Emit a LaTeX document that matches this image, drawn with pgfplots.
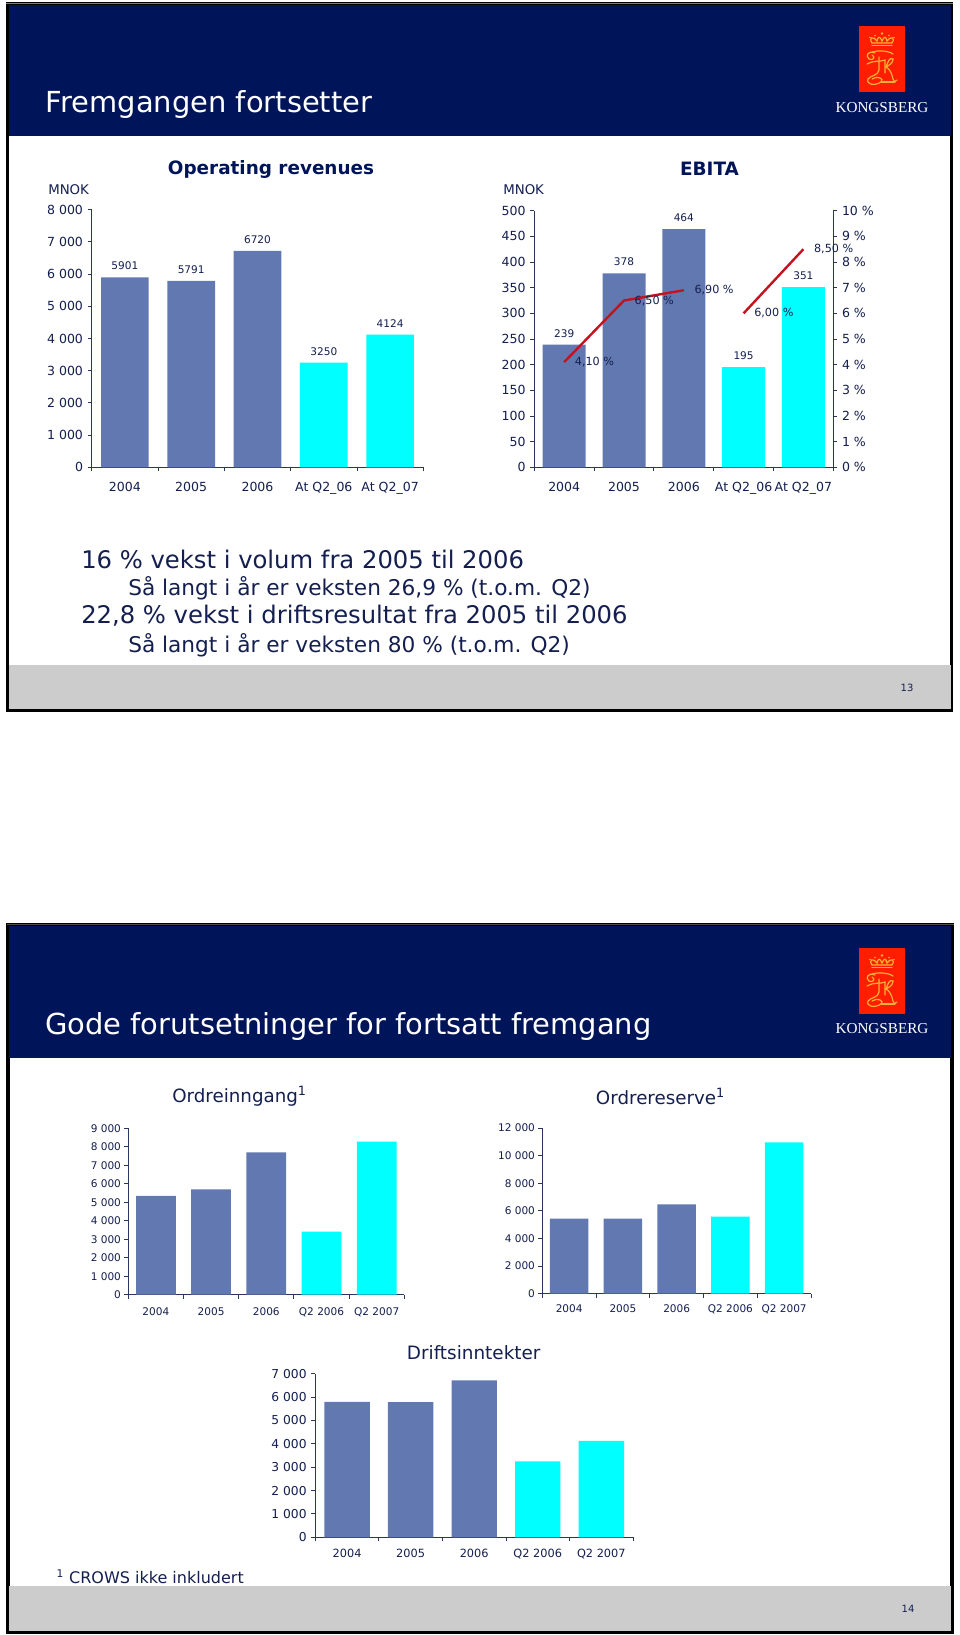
\documentclass[border=0pt]{standalone}
\usepackage{pgfplots}
\pgfplotsset{compat=1.18}
\usepackage{fontspec}
\setmainfont{DejaVu Sans}
\newfontfamily\logofont{Liberation Serif}
\newlength\px \setlength\px{0.75pt}
\definecolor{navy}{HTML}{00145A}
\definecolor{txt}{HTML}{141F50}
\definecolor{axc}{HTML}{2A3560}
\definecolor{barb}{HTML}{6278B0}
\definecolor{cyanb}{HTML}{00FFFF}
\definecolor{footg}{HTML}{CCCCCC}
\definecolor{redl}{HTML}{C4121F}
\definecolor{logor}{HTML}{FF1E00}
\definecolor{logoy}{HTML}{FFB030}
\newcommand\fs[1]{\fontsize{#1}{#1}\selectfont}
\pgfplotsset{
  kb/.style={
    scale only axis, clip=false,
    axis lines*=left,
    axis line style={draw=axc,line width=0.8pt,-},
    xmin=-0.5, xmax=4.5, ymin=0,
    xtick={0,1,2,3,4},
    minor xtick={-0.5,0.5,1.5,2.5,3.5,4.5},
    major x tick style={draw=none},
    minor x tick style={draw=axc,line width=0.7pt},
    y tick style={draw=axc,line width=0.7pt},
    tick align=outside,
    major tick length=4\px, minor tick length=4\px,
    scaled y ticks=false,
    /pgf/number format/assume math mode=true,
    /pgf/number format/1000 sep={\ },
    tick label style={text=txt},
  },
  bb/.style={ybar, bar shift=0pt, fill=barb, draw=none},
  cb/.style={ybar, bar shift=0pt, fill=cyanb, draw=none},
  vals/.style={nodes near coords={\pgfmathprintnumber[1000 sep={}]{\pgfplotspointmeta}},
     every node near coord/.append style={font=\fs{7.9},text=txt,yshift=2pt}},
  pct/.style={draw=redl,line width=1.8pt,no markers,
     nodes near coords={\pgfmathprintnumber[use comma,fixed,fixed zerofill,precision=2]{\pgfplotspointmeta}~\%},
     every node near coord/.append style={font=\fs{8.4},text=txt,anchor=west,xshift=9.5\px,inner sep=0pt}},
}
\newcommand\logo[2]{%
 \begin{scope}[shift={(#1,#2)},x=0.75pt,y=-0.75pt]
  \fill[logor] (0,0) rectangle (46,65.7);
  \begin{scope}[draw=logoy,line width=0.9pt,line cap=round,fill=logoy]
   \draw (13,19.5) -- (33,19.5);
   \draw (13,17) .. controls (9,11) and (15,10) .. (18,15) .. controls (19,10) and (21,10) .. (23,15)
      .. controls (25,10) and (27,10) .. (28,15) .. controls (31,10) and (37,11) .. (33,17) -- cycle;
   \fill (23,7.5) circle (1.3) (16,9.5) circle (0.8) (30,9.5) circle (0.8) (11,11.5) circle (0.8) (35,11.5) circle (0.8);
   \draw (16,27) .. controls (9,24) and (6,30) .. (10,33) .. controls (14,35) and (17,31) .. (13,29);
   \draw (13,26) .. controls (20,24) and (30,25) .. (34,28);
   \draw (8,38) .. controls (14,34) and (22,36) .. (26,34) -- (26,47);
   \draw (20,31) -- (20,44) .. controls (19,50) and (12,49) .. (9,53) .. controls (7,59) and (16,60) .. (22,56) .. controls (26,53) and (18,49) .. (13,53);
   \draw (26,41) .. controls (30,40) and (34,37) .. (34,33) .. controls (30,31) and (29,36) .. (27,41)
      .. controls (31,43) and (33,48) .. (34,53) .. controls (35,56) and (37,56) .. (38,54);
   \draw (22,56) -- (36,56);
  \end{scope}
 \end{scope}}
\begin{document}
\begin{tikzpicture}[x=0.75pt,y=-0.75pt]
\path[use as bounding box,fill=white] (0,0) rectangle (960,1635);

% ---------- slide 1 ----------
\draw[black,line width=2.3pt,fill=white] (7.5,4) rectangle (951.5,710);
\fill[navy] (8.5,5) rectangle (950.5,136);
\fill[footg] (8.5,665) rectangle (950.5,708.5);
\draw[gray,line width=1pt] (6,3.3) -- (953,3.3);
\logo{859}{26}
\node[anchor=center,text=white,font=\logofont\fs{11.4}] at (882,107.7) {KONGSBERG};
\node[anchor=base west,inner sep=0pt,text=white,font=\fs{21.7}] at (45.7,112.7) {Fremgangen fortsetter};
\node[text=navy,font=\bfseries\fs{13.8}] at (271,169) {Operating revenues};
\node[text=navy,font=\bfseries\fs{13.8}] at (709.5,169) {EBITA};
\node[anchor=west,inner sep=0pt,text=txt,font=\fs{10}] at (48,189.5) {MNOK};
\node[anchor=west,inner sep=0pt,text=txt,font=\fs{10}] at (503,189.5) {MNOK};

\begin{axis}[kb, at={(91.7\px,-467.3\px)}, anchor=south west, width=331.6\px, height=257.6\px,
  ymax=8000, ytick={0,1000,...,8000},
  tick label style={font=\fs{9.4}},
  xticklabels={2004,2005,2006,At Q2\_06,At Q2\_07}, xticklabel style={yshift=-5pt}]
 \addplot[bb,bar width=47.7\px,vals] coordinates {(0,5901)(1,5791)(2,6720)};
 \addplot[cb,bar width=47.7\px,vals] coordinates {(3,3250)(4,4124)};
\end{axis}

\begin{axis}[kb, at={(534.3\px,-467.3\px)}, anchor=south west, width=299\px, height=256.6\px,
  ymax=500, ytick={0,50,...,500},
  tick label style={font=\fs{9.4}},
  xticklabels={2004,2005,2006,At Q2\_06,At Q2\_07}, xticklabel style={yshift=-5pt}]
 \addplot[bb,bar width=43\px,vals] coordinates {(0,239)(1,378)(2,464)};
 \addplot[cb,bar width=43\px,vals] coordinates {(3,195)(4,351)};
\end{axis}
\begin{axis}[scale only axis, clip=false, at={(534.3\px,-467.3\px)}, anchor=south west, width=299\px, height=256.6\px,
  axis x line=none, axis y line*=right,
  axis line style={draw=axc,line width=0.8pt,-},
  xmin=-0.5, xmax=4.5, ymin=0, ymax=10, ytick={0,1,...,10},
  y tick style={draw=axc,line width=0.7pt}, tick align=outside, major tick length=4\px,
  yticklabel={\pgfmathprintnumber{\tick}~\%},
  /pgf/number format/assume math mode=true,
  tick label style={font=\fs{9.4},text=txt}]
 \addplot[pct] coordinates {(0,4.1)(1,6.5)(2,6.9)};
 \addplot[pct] coordinates {(3,6.0)(4,8.5)};
\end{axis}

\node[anchor=west,inner sep=0pt,text=txt,font=\fs{18.2}] at (81,559) {16 \% vekst i volum fra 2005 til 2006};
\node[anchor=west,inner sep=0pt,text=txt,font=\fs{16.25}] at (128,588.5) {Så langt i år er veksten 26,9 \% (t.o.m. Q2)};
\node[anchor=west,inner sep=0pt,text=txt,font=\fs{18.2}] at (81,616) {22,8 \% vekst i driftsresultat fra 2005 til 2006};
\node[anchor=west,inner sep=0pt,text=txt,font=\fs{16.25}] at (128,645) {Så langt i år er veksten 80 \% (t.o.m. Q2)};
\node[text=txt,font=\fs{7.5}] at (907,688) {13};

% ---------- slide 2 ----------
\draw[black,line width=2.3pt,fill=white] (8,925) rectangle (952,1632);
\fill[navy] (9,926) rectangle (951,1058);
\fill[footg] (9,1586) rectangle (951,1630.5);
\draw[gray!60!black,line width=1pt] (6.5,924.3) -- (953.5,924.3);
\logo{859}{948}
\node[anchor=center,text=white,font=\logofont\fs{11.4}] at (882,1029) {KONGSBERG};
\node[anchor=base west,inner sep=0pt,text=white,font=\fs{21.7}] at (45,1034) {Gode forutsetninger for fortsatt fremgang};
\node[anchor=west,inner sep=0pt,text=txt,font=\fs{13.7}] at (172,1096) {Ordreinngang\textsuperscript{1}};
\node[anchor=west,inner sep=0pt,text=txt,font=\fs{13.7}] at (595.7,1096) {Ordrereserve\textsuperscript{1}};
\node[anchor=west,inner sep=0pt,text=txt,font=\fs{13.8}] at (406.7,1353) {Driftsinntekter};

\begin{axis}[kb, at={(128.3\px,-1294.7\px)}, anchor=south west, width=276\px, height=166.4\px,
  ymax=9000, ytick={0,1000,...,9000},
  tick label style={font=\fs{7.9}}, yticklabel style={xshift=1pt},
  xticklabels={2004,2005,2006,Q2 2006,Q2 2007}, xticklabel style={yshift=-3pt}]
 \addplot[bb,bar width=39.7\px] coordinates {(0,5340)(1,5700)(2,7700)};
 \addplot[cb,bar width=39.7\px] coordinates {(3,3410)(4,8280)};
\end{axis}

\begin{axis}[kb, at={(542.3\px,-1293.7\px)}, anchor=south west, width=268.7\px, height=165.7\px,
  ymax=12000, ytick={0,2000,...,12000},
  tick label style={font=\fs{7.9}}, yticklabel style={xshift=1pt},
  xticklabels={2004,2005,2006,Q2 2006,Q2 2007}, xticklabel style={yshift=-2pt}]
 \addplot[bb,bar width=38.5\px] coordinates {(0,5430)(1,5430)(2,6470)};
 \addplot[cb,bar width=38.5\px] coordinates {(3,5580)(4,10960)};
\end{axis}

\begin{axis}[kb, at={(315.3\px,-1537.3\px)}, anchor=south west, width=317.8\px, height=163.6\px,
  ymax=7000, ytick={0,1000,...,7000},
  tick label style={font=\fs{8.5}}, yticklabel style={font=\fs{9.2}},
  xticklabels={2004,2005,2006,Q2 2006,Q2 2007}, xticklabel style={yshift=-2pt}]
 \addplot[bb,bar width=45.4\px] coordinates {(0,5800)(1,5780)(2,6720)};
 \addplot[cb,bar width=45.4\px] coordinates {(3,3250)(4,4124)};
\end{axis}

\node[anchor=west,inner sep=0pt,text=txt,font=\fs{12}] at (56.4,1577) {\textsuperscript{1} CROWS ikke inkludert};
\node[text=txt,font=\fs{7.5}] at (908,1609) {14};
\end{tikzpicture}
\end{document}
